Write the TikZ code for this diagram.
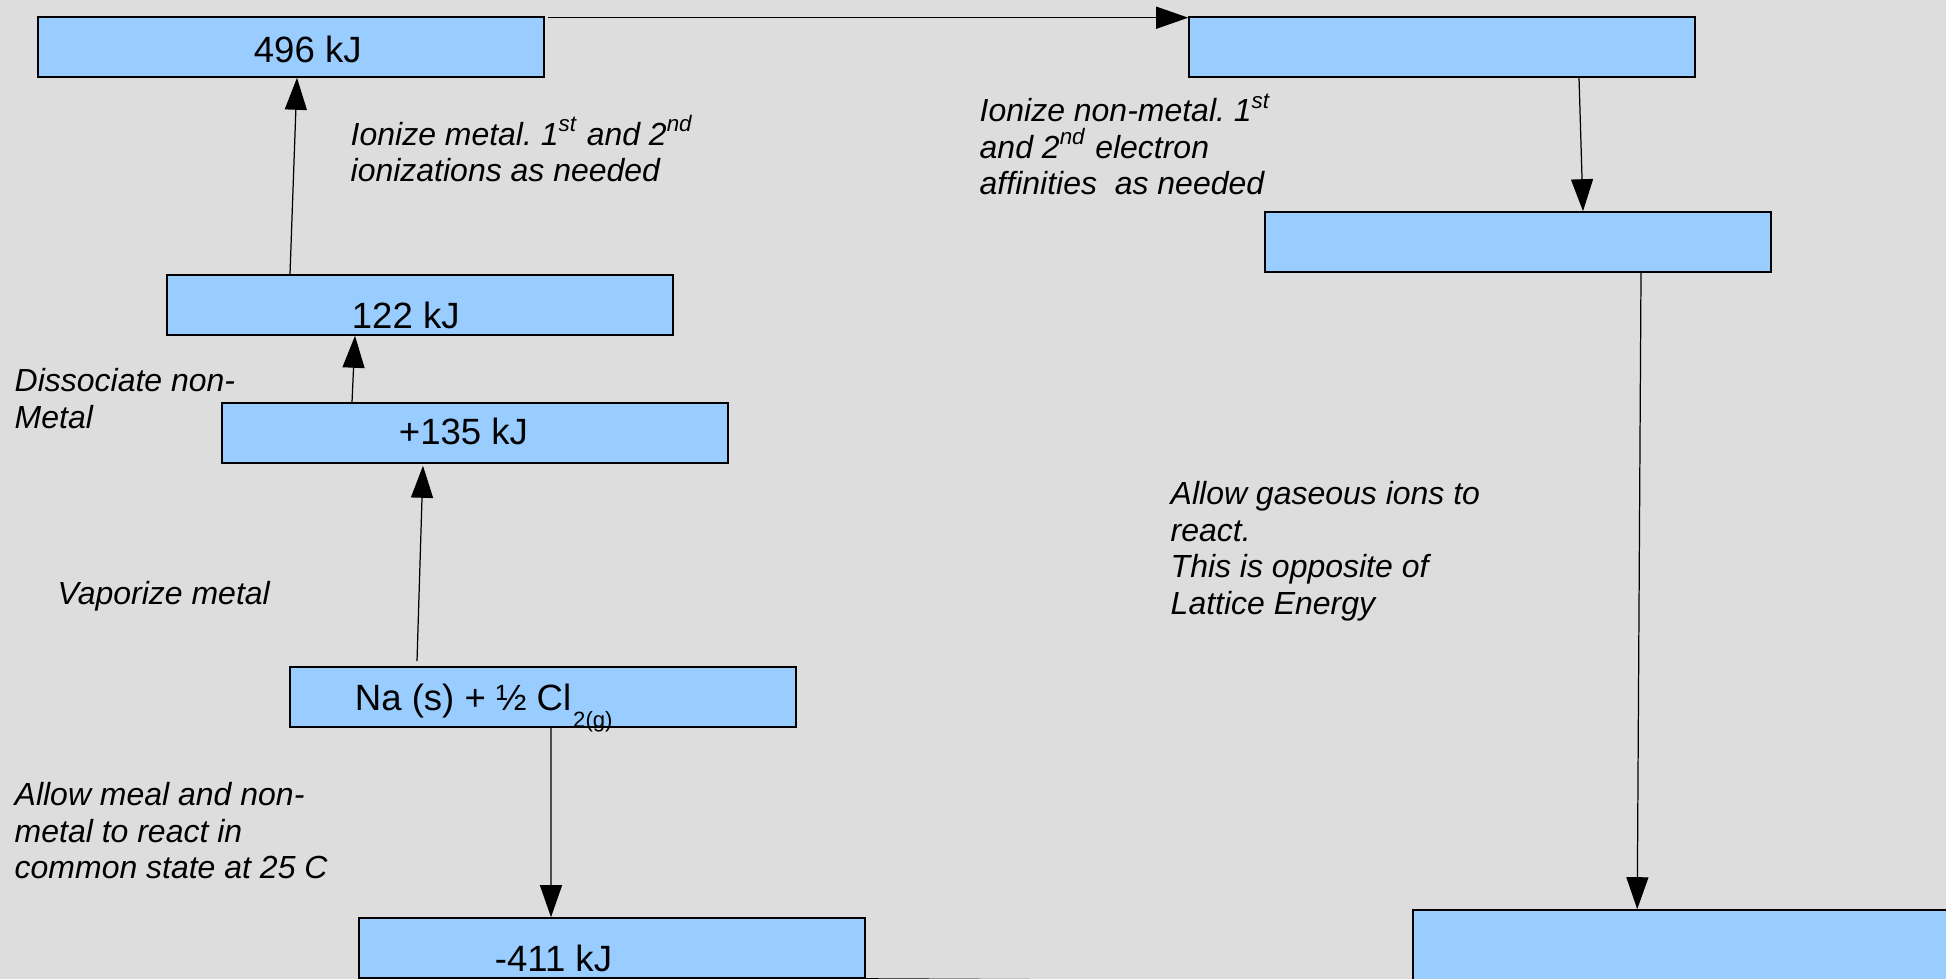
\documentclass[tikz,border=0pt]{standalone}
\usepackage{fontspec}
\setmainfont{Liberation Sans}
\usepackage{xcolor}
\usetikzlibrary{arrows.meta,positioning,calc}
\definecolor{bggray}{HTML}{DDDDDD}
\definecolor{boxblue}{HTML}{99CCFF}
\frenchspacing

\begin{document}
\begin{tikzpicture}[
    >={Triangle[length=0.32cm,width=0.22cm]},
    level/.style={draw=black, line width=0.45pt, fill=boxblue, minimum width=5.06cm, minimum height=0.6cm, inner sep=0pt},
    energy/.style={inner sep=0pt, font=\fontsize{10.4}{12}\selectfont},
    note/.style={inner sep=0pt, align=left, font=\itshape\fontsize{9.1}{10.4}\selectfont},
    link/.style={->, line width=0.35pt}
]
\useasboundingbox (0,0) rectangle (19.46,-9.79);
\fill[bggray] (0,0) rectangle (19.46,-9.79);
\clip (0,0) rectangle (19.46,-9.79);

% energy levels
\node[level] (ionm) at (2.91,-0.47) {};
\node[level] (ionnm) at (14.42,-0.47) {};
\node[level] (ea) at (15.18,-2.42) {};
\node[level, minimum width=5.6cm, minimum height=0.7cm] (lattice) at (16.93,-9.45) {};
\node[level] (dissoc) at (4.20,-3.05) {};
\node[level] (vapor) at (4.75,-4.33) {};
\node[level] (start) at (5.43,-6.97) {};
\node[level] (form) at (6.12,-9.48) {};

\node[energy, anchor=base west] (ionmval) at ([xshift=2.16cm, yshift=0.15cm]ionm.south west) {496 kJ};
\node[energy, anchor=base west] (dissocval) at ([xshift=1.85cm, yshift=0.07cm]dissoc.south west) {122 kJ};
\node[energy, anchor=base west] (vaporval) at ([xshift=1.77cm, yshift=0.19cm]vapor.south west) {+135 kJ};
\node[energy, anchor=base west] (startval) at ([xshift=0.65cm, yshift=0.17cm]start.south west) {Na (s) + ½ Cl\hspace{0.02cm}\raisebox{-0.45em}{\fontsize{6.3}{7}\selectfont 2(g)}};
\node[energy, anchor=base west] (formval) at ([xshift=1.36cm, yshift=0.07cm]form.south west) {-411 kJ};

% step notes
\node[note, anchor=north west] (ionmnote) at (3.50,-1.15) {Ionize metal. 1\textsuperscript{st} and 2\textsuperscript{nd}\\ionizations as needed};
\node[note, anchor=north west] (ionnmnote) at (9.79,-0.93) {Ionize non-metal. 1\textsuperscript{st}\\and 2\textsuperscript{nd} electron\\affinities\ \ as needed};
\node[note, anchor=north west] (dissocnote) at (0.14,-3.68) {Dissociate non-\\Metal};
\node[note, anchor=north west] (vapornote) at (0.57,-5.81) {Vaporize metal};
\node[note, anchor=north west] (formnote) at (0.14,-7.82) {Allow meal and non-\\metal to react in\\common state at 25 C};
\node[note, anchor=north west] (latticenote) at (11.70,-4.81) {Allow gaseous ions to\\react.\\This is opposite of\\Lattice Energy};

\draw[link] ([xshift=0.03cm, yshift=-0.015cm]ionm.north east) -- ([yshift=-0.015cm]ionnm.north west);
\draw[link] ([xshift=-1.30cm]dissoc.north) -- ([xshift=0.06cm]ionm.south);
\draw[link] ([xshift=-1.23cm]vapor.north) -- ([xshift=-0.65cm]dissoc.south);
\draw[link] ([xshift=-1.26cm, yshift=0.05cm]start.north) -- ([xshift=-0.52cm, yshift=-0.02cm]vapor.south);
\draw[link] ([xshift=0.08cm]start.south) -- ([xshift=-0.61cm]form.north);
\draw[link] ([xshift=1.37cm]ionnm.south) -- ([xshift=0.65cm]ea.north);
\draw[link] ([xshift=1.23cm]ea.south) -- ([xshift=2.25cm]lattice.north west);
\coordinate (formexit) at (14.13,-9.815);
\draw[line width=0.35pt] (form.south east) -- (formexit);
\end{tikzpicture}
\end{document}
